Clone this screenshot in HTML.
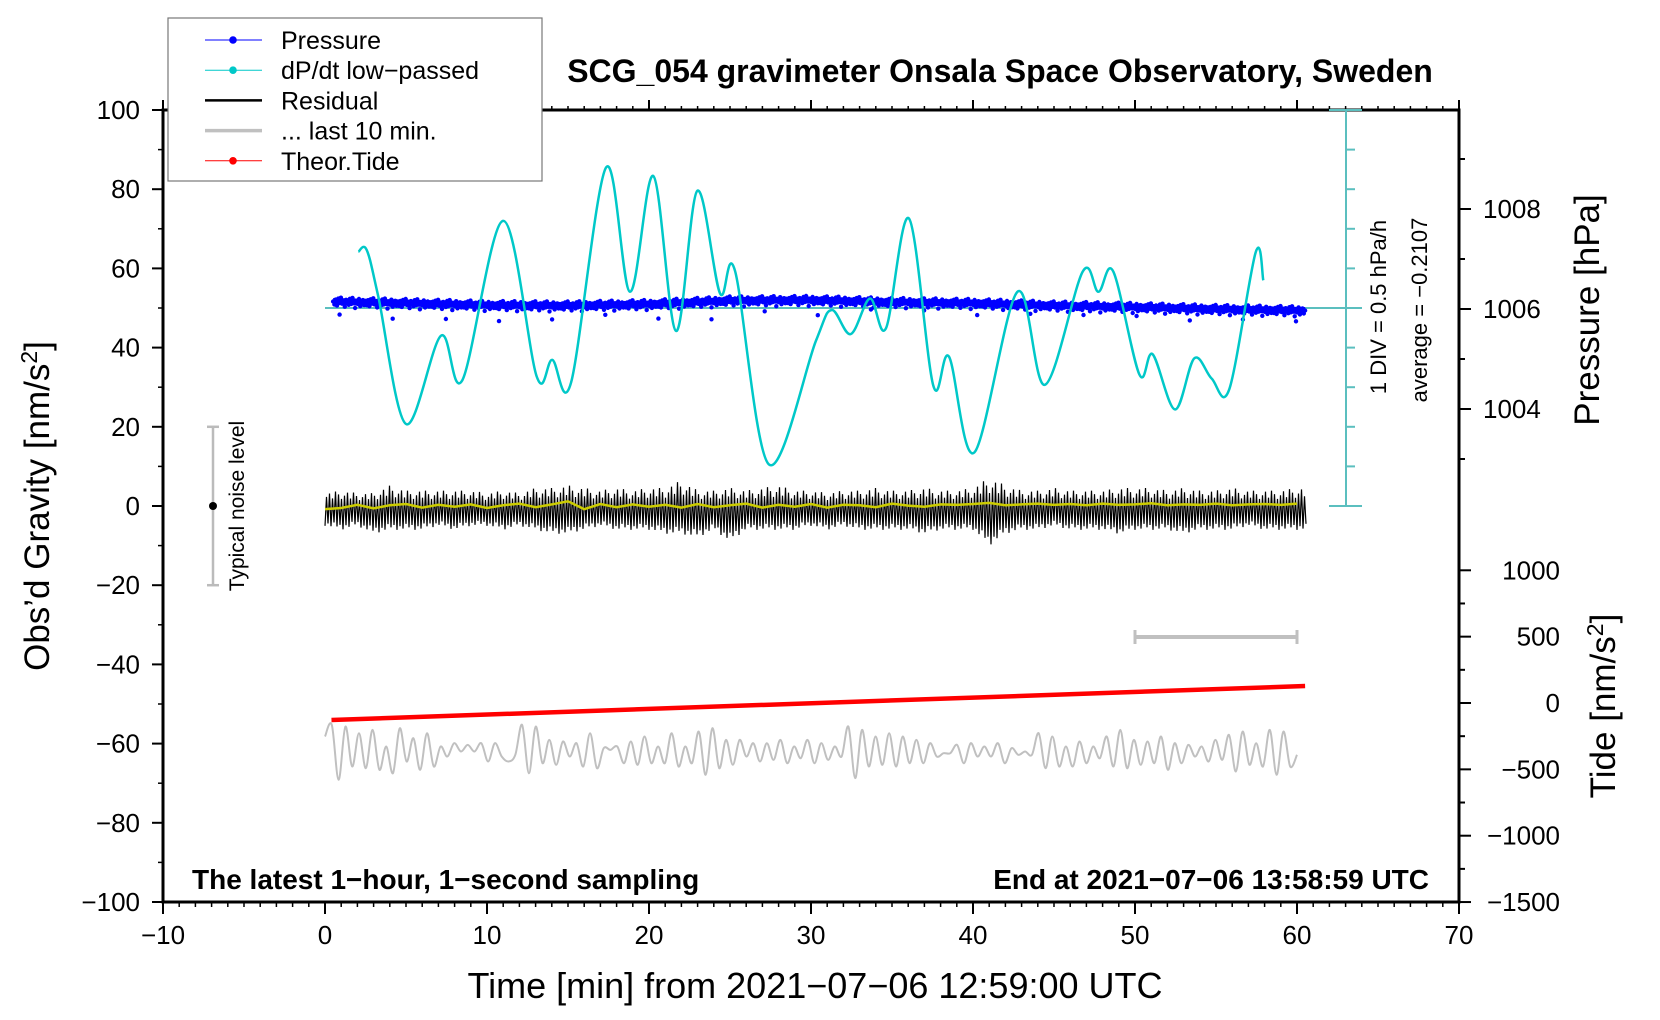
<!DOCTYPE html>
<html><head><meta charset="utf-8"><style>
body{margin:0;background:#fff}
svg{display:block;font-family:"Liberation Sans",sans-serif}
</style></head><body>
<svg id="c" width="1660" height="1020" viewBox="0 0 1660 1020"></svg>
<script>
// ---- data ----
const xTicks=[-10,0,10,20,30,40,50,60,70];
const gTicks=[100,80,60,40,20,0,-20,-40,-60,-80,-100];
const pTicks=[1004,1006,1008];
const tideTicks=[1000,500,0,-500,-1000,-1500];
const dpdtT=[2.06,2.57,3.29,5.0,7.16,8.48,11.0,13.07,14.03,15.19,17.35,18.83,20.27,21.67,22.98,24.38,25.31,27.4,30.3,31.28,32.45,33.64,34.63,36.05,37.55,38.52,40.08,42.74,44.44,46.77,47.74,48.66,50.27,51.09,52.47,53.66,54.73,55.82,57.45,57.92];
const dpdtG=[64.2,64.7,52.9,20.7,43,31.8,72,32.7,36.9,31.2,85.5,54.1,83.3,44.2,79.6,53.7,59.4,10.5,41.7,49.5,43.4,52.4,44.9,72.6,30.4,37.7,13.5,54.1,30.6,59.2,54.1,59.2,33.2,38.3,24.4,37.3,32.2,29.5,64.1,57];
const presT=[0.5,5,10,15,20,25,30,35,40,45,50,55,60.5];
const presV=[1006.15,1006.12,1006.08,1006.07,1006.1,1006.17,1006.18,1006.14,1006.12,1006.07,1006.04,1006.0,1005.97];
const resUpper=[5,6,5,5,8,6,6,6,6,6,5,6,5,7,7,8,7,6,7,6,7,7,10,6,6,7,6,7,8,6,6,5,6,6,7,6,6,7,6,6,7,11,8,6,6,7,6,6,6,7,7,7,6,7,6,6,7,6,6,6,7];
const resLower=[-5,-6,-5,-7,-6,-6,-6,-5,-6,-5,-5,-6,-5,-6,-7,-7,-6,-5,-6,-6,-6,-7,-7,-8,-6,-9,-6,-6,-6,-6,-5,-6,-5,-6,-6,-6,-6,-7,-6,-6,-6,-10,-7,-6,-6,-5,-6,-6,-6,-7,-6,-6,-6,-7,-6,-6,-6,-5,-6,-6,-6];
const resSmooth=[-0.8,-0.5,0.3,-0.6,0.2,0.5,-0.4,0.3,-0.2,0.4,-0.5,0.2,0.6,-0.3,0.4,1.2,-0.8,0.5,-0.3,0.4,-0.2,0.3,-0.4,0.5,-0.3,0.2,0.6,-0.4,0.3,-0.2,0.5,-0.4,0.3,0.2,-0.3,0.6,0.1,-0.2,0.4,0.3,0.5,0.8,0.2,0.4,0.6,0.3,0.5,0.2,0.6,0.3,0.4,0.7,0.2,0.4,0.3,0.6,0.2,0.4,0.5,0.3,0.6];
const tideT=[0.4,60.5];
const tideV=[-128,128];
const grayRaw=[410,375,540,380,500,400,505,390,510,440,520,385,485,415,510,400,500,440,470,430,455,435,455,430,485,430,470,485,465,375,520,380,490,420,495,425,470,430,500,400,505,445,450,440,490,425,495,410,490,440,490,400,500,440,490,395,525,385,505,420,495,420,470,430,485,430,480,420,490,440,475,420,490,430,480,440,470,380,535,390,500,410,495,400,500,410,490,420,490,430,470,460,460,435,490,430,470,440,470,430,490,445,465,455,465,400,505,410,500,440,500,425,490,440,475,410,500,390,505,420,495,425,490,410,510,430,490,435,470,440,485,420,480,405,515,395,495,430,500,390,525,395,500,465];

// ---- axes ----
const X=t=>325+16.2*t;
const Y=g=>506-3.96*g;
const PY=p=>309-(p-1006)*50;
const TY=v=>703-v*0.1327;
const svg=document.getElementById('c');
const NS='http://www.w3.org/2000/svg';
function mk(tag,attrs,parent){const e=document.createElementNS(NS,tag);for(const k in attrs)e.setAttribute(k,attrs[k]);(parent||svg).appendChild(e);return e;}
function txt(s,attrs){const e=mk('text',attrs);e.textContent=s;return e;}
function smooth(pts){let d='M'+pts[0][0]+','+pts[0][1];for(let i=0;i<pts.length-1;i++){const p0=pts[Math.max(0,i-1)],p1=pts[i],p2=pts[i+1],p3=pts[Math.min(pts.length-1,i+2)];const c1=[p1[0]+(p2[0]-p0[0])/6,p1[1]+(p2[1]-p0[1])/6],c2=[p2[0]-(p3[0]-p1[0])/6,p2[1]-(p3[1]-p1[1])/6];d+=' C'+c1[0].toFixed(1)+','+c1[1].toFixed(1)+' '+c2[0].toFixed(1)+','+c2[1].toFixed(1)+' '+p2[0].toFixed(1)+','+p2[1].toFixed(1);}return d;}
function interp(ts,vs,t){if(t<=ts[0])return vs[0];for(let i=0;i<ts.length-1;i++){if(t<=ts[i+1]){const f=(t-ts[i])/(ts[i+1]-ts[i]);return vs[i]+f*(vs[i+1]-vs[i]);}}return vs[vs.length-1];}

// frame
let e=mk('rect',{x:163,y:110,width:1296,height:792,fill:'none',stroke:'#000','stroke-width':3});


// x ticks
for(let t=-10;t<=70;t++){const maj=t%10===0;mk('line',{x1:X(t),x2:X(t),y1:902,y2:902+(maj?12:5),stroke:'#000','stroke-width':maj?2:1.5});mk('line',{x1:X(t),x2:X(t),y1:110,y2:110-(maj?10:4),stroke:'#000','stroke-width':maj?2:1.5});}
xTicks.forEach(t=>{const l=txt(String(t).replace('-','\u2212'),{x:X(t),y:944,'font-size':26,'text-anchor':'middle'});});
// y ticks
for(let g=-100;g<=100;g+=10){const maj=g%20===0;mk('line',{x1:163,x2:163-(maj?11:5),y1:Y(g),y2:Y(g),stroke:'#000','stroke-width':maj?2:1.5});}
gTicks.forEach(g=>{const l=txt(String(g).replace('-','\u2212'),{x:140,y:Y(g)+9,'font-size':26,'text-anchor':'end'});});
// pressure ticks
for(let p=1003;p<=1009;p++){const maj=p%2===0;mk('line',{x1:1459,x2:1459+(maj?12:6),y1:PY(p),y2:PY(p),stroke:'#000','stroke-width':2});}
pTicks.forEach(p=>{const l=txt(String(p),{x:1483,y:PY(p)+9,'font-size':26});});
// tide ticks
for(let v=-1500;v<=1000;v+=250){const maj=v%500===0;mk('line',{x1:1459,x2:1459+(maj?12:6),y1:TY(v),y2:TY(v),stroke:'#000','stroke-width':2});}
tideTicks.forEach(v=>{const l=txt(String(v).replace('-','\u2212'),{x:1560,y:TY(v)+9,'font-size':26,'text-anchor':'end'});});

// titles
e=txt('SCG_054 gravimeter Onsala Space Observatory, Sweden',{x:1000,y:82,'font-size':32,'font-weight':'bold','text-anchor':'middle'});

e=txt('Time [min] from 2021\u221207\u221206 12:59:00 UTC',{x:815,y:998,'font-size':36,'text-anchor':'middle'});

e=mk('text',{x:0,y:0,'font-size':35,'text-anchor':'middle',transform:'translate(49,506) rotate(-90)'});
e.innerHTML='Obs\u2019d Gravity [nm/s<tspan dy="-12" font-size="23">2</tspan><tspan dy="12">]</tspan>';

e=txt('Pressure [hPa]',{x:0,y:0,'font-size':35,'text-anchor':'middle',transform:'translate(1599,310) rotate(-90)'});

e=mk('text',{x:0,y:0,'font-size':35,'text-anchor':'middle',transform:'translate(1615,706) rotate(-90)'});
e.innerHTML='Tide [nm/s<tspan dy="-12" font-size="23">2</tspan><tspan dy="12">]</tspan>';

e=txt('The latest 1\u2212hour, 1\u2212second sampling',{x:192,y:889,'font-size':28,'font-weight':'bold'});

e=txt('End at 2021\u221207\u221206 13:58:59 UTC',{x:1429,y:889,'font-size':28,'font-weight':'bold','text-anchor':'end'});


// cyan scale bar
const cy='#5bbfbf';
mk('line',{x1:X(0),x2:1362,y1:Y(50),y2:Y(50),stroke:cy,'stroke-width':2});
mk('line',{x1:1346,x2:1346,y1:110,y2:506,stroke:cy,'stroke-width':2});
for(let i=0;i<=10;i++){const y=110+39.6*i;const maj=(i===0||i===5||i===10);mk('line',{x1:maj?1329:1346,x2:maj?1362:1355,y1:y,y2:y,stroke:cy,'stroke-width':2});}
e=txt('1 DIV = 0.5 hPa/h',{x:0,y:0,'font-size':22,'text-anchor':'middle',transform:'translate(1386,307) rotate(-90)'});

e=txt('average = \u22120.2107',{x:0,y:0,'font-size':22,'text-anchor':'middle',transform:'translate(1427,310) rotate(-90)'});


// noise bar
const ng='#bbbbbb';
mk('line',{x1:213,x2:213,y1:Y(20),y2:Y(-20),stroke:ng,'stroke-width':2.5});
mk('line',{x1:207,x2:219,y1:Y(20),y2:Y(20),stroke:ng,'stroke-width':2.5});
mk('line',{x1:207,x2:219,y1:Y(-20),y2:Y(-20),stroke:ng,'stroke-width':2.5});
mk('circle',{cx:213,cy:Y(0),r:4,fill:'#000'});
e=txt('Typical noise level',{x:0,y:0,'font-size':21,'text-anchor':'middle',transform:'translate(244,506) rotate(-90)'});


// pressure dots
const jit=[0,3,-2,4,-3,1,-4,2,-1,5,-2,0,3,-3,2,-4,1,6,-1,2,-3,4,0,-2,3];
const pg=mk('g',{fill:'#0000ff'});

mk('path',{d:presT.map((t,i)=>(i?'L':'M')+X(t)+','+PY(presV[i])).join(' '),stroke:'#0000ff','stroke-width':7,fill:'none'},pg);
for(let t=0.5,k=0;t<=60.5;t+=0.08,k++){const y=PY(interp(presT,presV,t))+jit[k%jit.length];mk('circle',{cx:X(t).toFixed(1),cy:y.toFixed(1),r:2.2},pg);if(k%41===5)mk('circle',{cx:X(t).toFixed(1),cy:(y+12).toFixed(1),r:2.2},pg);}

// dP/dt curve
e=mk('path',{d:smooth(dpdtT.map((t,i)=>[X(t),Y(dpdtG[i])])),stroke:'#00c8c8','stroke-width':2.5,fill:'none'});


// residual
const fac=[1,0.45,0.85,0.6,0.95,0.35,0.75,0.65,0.9,0.5,0.8,0.3];
const idx=resUpper.map((_,i)=>i);
let d='';let k=0;
for(let px=X(0);px<=X(60.6);px+=1.5,k++){const t=(px-325)/16.2;const f=fac[k%fac.length];const v=(k%2?interp(idx,resUpper,t):interp(idx,resLower,t))*f;d+=(k?'L':'M')+px.toFixed(1)+','+Y(v).toFixed(1);}
e=mk('path',{d:d,stroke:'#000','stroke-width':1.2,fill:'none'});

e=mk('path',{d:resSmooth.map((v,i)=>(i?'L':'M')+X(i)+','+Y(v)).join(' '),stroke:'#cccc00','stroke-width':2.5,fill:'none'});


// tide
e=mk('path',{d:tideT.map((t,i)=>(i?'L':'M')+X(t)+','+TY(tideV[i])).join(' '),stroke:'#ff0000','stroke-width':4.5,fill:'none'});


// last 10 min
const grayG=grayRaw.map(v=>-62-(v-455)/11.9);
e=mk('path',{d:smooth(grayG.map((g,i)=>[X(60*i/(grayG.length-1)),Y(g)])),stroke:'#c0c0c0','stroke-width':2,fill:'none'});

mk('line',{x1:X(50),x2:X(60),y1:637,y2:637,stroke:'#c0c0c0','stroke-width':4});
mk('line',{x1:X(50),x2:X(50),y1:630,y2:644,stroke:'#c0c0c0','stroke-width':3});
mk('line',{x1:X(60),x2:X(60),y1:630,y2:644,stroke:'#c0c0c0','stroke-width':3});

// legend
const lg=mk('g',{});

mk('rect',{x:168,y:18,width:374,height:163,fill:'#fff',stroke:'#777','stroke-width':1.2},lg);
const leg=[['Pressure','#0000ff',1,true],['dP/dt low\u2212passed','#00c8c8',1,true],['Residual','#000',2.5,false],['... last 10 min.','#c0c0c0',3.5,false],['Theor.Tide','#ff0000',1,true]];
leg.forEach((L,i)=>{const y=40+30.2*i;const r=mk('g',{},lg);mk('line',{x1:205,x2:262,y1:y,y2:y,stroke:L[1],'stroke-width':L[2]},r);if(L[3])mk('circle',{cx:233,cy:y,r:3.8,fill:L[1]},r);const t=mk('text',{x:281,y:y+9,'font-size':25},r);t.textContent=L[0];});
</script>
</body></html>
